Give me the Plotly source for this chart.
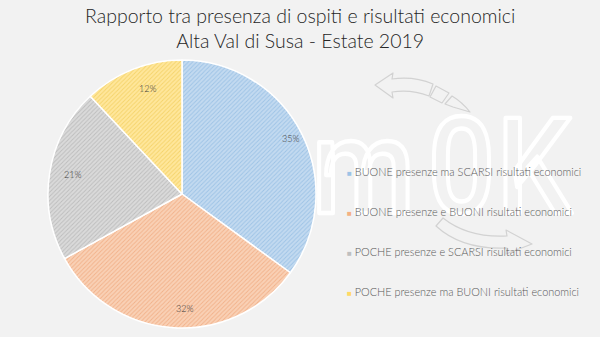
import base64
import math
import plotly.graph_objects as go

# Data
categories = [
    "BUONE presenze ma SCARSI risultati economici",
    "BUONE presenze e BUONI risultati economici",
    "POCHE presenze e SCARSI risultati economici",
    "POCHE presenze ma BUONI risultati economici",
]
shares = [35, 32, 21, 12]
title_lines = ["Rapporto tra presenza di ospiti e risultati economici",
               "Alta Val di Susa - Estate 2019"]

fill_colors = ["#c3daf0", "#f9d1b6", "#dadada", "#ffe79c"]
hatch_colors = ["#9dc3e6", "#f2b28a", "#bdbdbd", "#f5d36a"]
key_colors = ["#9dc3e6", "#f4b183", "#bfbfbf", "#ffd966"]

W, H = 600, 337
BG = "#f2f2f2"
FONT = "Lato"

# Pie geometry (pixels)
cx, cy, R = 182, 194, 134

fig = go.Figure(
    go.Pie(
        labels=categories,
        values=shares,
        sort=False,
        direction="clockwise",
        rotation=0,
        textinfo="none",
        showlegend=False,
        marker=dict(
            colors=fill_colors,
            line=dict(color="#ffffff", width=1.5),
            pattern=dict(shape="/", fgcolor=hatch_colors, bgcolor=fill_colors,
                         size=3, solidity=0.3),
        ),
        domain=dict(x=[(cx - R) / W, (cx + R) / W],
                    y=[(H - cy - R) / H, (H - cy + R) / H]),
        hovertemplate="%{label}: %{percent}<extra></extra>",
    )
)

annotations = []

# Two-line heading
annotations.append(dict(
    x=0.5, y=1 - 2 / H, xref="paper", yref="paper",
    xanchor="center", yanchor="top", showarrow=False,
    text="<br>".join(title_lines),
    font=dict(family=FONT, size=19.5, color="#262626", weight=300),
))

# Percentage labels near the outer edge of each slice
total = sum(shares)
cum = 0
for v in shares:
    mid = (cum + v / 2) / total * 2 * math.pi
    cum += v
    r = 0.91 * R
    px = cx + r * math.sin(mid)
    py = cy - r * math.cos(mid)
    annotations.append(dict(
        x=px / W, y=(H - py) / H, xref="paper", yref="paper",
        text=f"{round(v / total * 100)}%", showarrow=False,
        font=dict(family=FONT, size=9, color="#404040", weight=300),
    ))

# Key with coloured squares
key_x, key_y0, key_step = 345, 171, 40.3
for i, (lab, col) in enumerate(zip(categories, key_colors)):
    annotations.append(dict(
        x=key_x / W, y=(H - (key_y0 + i * key_step)) / H,
        xref="paper", yref="paper", xanchor="left", yanchor="middle",
        text=f"<span style='color:{col};font-size:8px'>■</span> {lab}",
        showarrow=False,
        font=dict(family=FONT, size=10.9, color="#595959", weight=300),
    ))

# Watermark artwork behind the chart
svg = f"""<svg xmlns="http://www.w3.org/2000/svg" width="{W}" height="{H}" viewBox="0 0 {W} {H}">
<g fill="none" stroke="#ffffff" stroke-width="4.5" stroke-linejoin="round" font-family="Roboto" font-weight="500" font-size="134">
<text transform="translate(312,213) scale(0.88,1)">m</text>
<text transform="translate(428,213) scale(0.88,1)">0</text>
<text transform="translate(497,213) scale(0.88,1)">K</text>
</g>
<g fill="none" stroke="#d2d2d2" stroke-width="1.2" stroke-linejoin="round">
<path d="M375,85 L393,73 L392,79 Q414,76 433,84 L429,96 Q411,89 392,92 L393,98 Z"/>
<path d="M436,86 L449,93 L442,103 L430,97 Z"/>
<path d="M452,96 Q462,102 470,112 L453,107 L445,104 Z"/>
<path d="M443,218 Q468,238 507,236 L506,230 L532,244 L506,254 L507,248 Q462,250 436,226 Z"/>
</g>
</svg>"""
src = "data:image/svg+xml;base64," + base64.b64encode(svg.encode("utf-8")).decode("ascii")

fig.update_layout(
    width=W, height=H,
    margin=dict(l=0, r=0, t=0, b=0),
    paper_bgcolor=BG, plot_bgcolor=BG,
    annotations=annotations,
    images=[dict(source=src, xref="paper", yref="paper", x=0, y=1,
                 sizex=1, sizey=1, xanchor="left", yanchor="top",
                 sizing="stretch", layer="below")],
)

fig.write_html("out.html")
